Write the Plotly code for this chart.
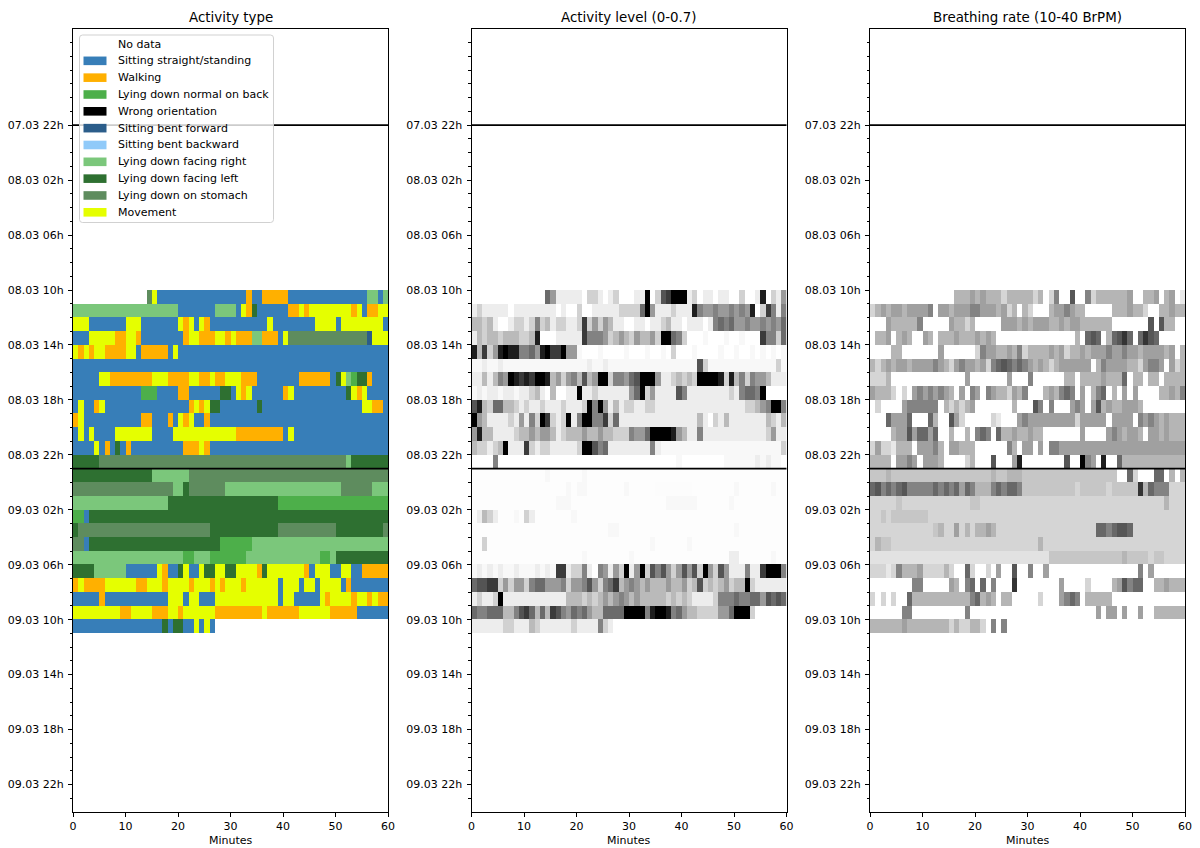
import plotly.graph_objects as go

# ---------------------------------------------------------------------------
# Categories of the "Activity type" panel
# ---------------------------------------------------------------------------
CATEGORIES = [
    "No data", "Sitting straight/standing", "Walking", "Lying down normal on back",
    "Wrong orientation", "Sitting bent forward", "Sitting bent backward",
    "Lying down facing right", "Lying down facing left", "Lying down on stomach", "Movement",
]
CATEGORY_CODES = ["-", "S", "W", "B", "X", "F", "K", "R", "L", "T", "M"]
CATEGORY_COLORS = [
    "#ffffff", "#377eb8", "#ffb000", "#4daf4a", "#000000", "#2b5d8a",
    "#90caf9", "#7bc77b", "#2e7031", "#5e8c5e", "#e5ff00",
]

TITLES = ["Activity type", "Activity level (0-0.7)", "Breathing rate (10-40 BrPM)"]
ACTIVITY_RANGE = (0, 0.7)
BREATHING_RANGE = (10, 40)

MINUTES = list(range(60))
X_TICKS = [0, 10, 20, 30, 40, 50, 60]

ROW_LABELS = [
    "08.03 10h", "08.03 11h", "08.03 12h", "08.03 13h", "08.03 14h", "08.03 15h",
    "08.03 16h", "08.03 17h", "08.03 18h", "08.03 19h", "08.03 20h", "08.03 21h",
    "08.03 22h", "08.03 23h", "09.03 00h", "09.03 01h", "09.03 02h", "09.03 03h",
    "09.03 04h", "09.03 05h", "09.03 06h", "09.03 07h", "09.03 08h", "09.03 09h",
    "09.03 10h",
]
Y_TICK_LABELS = [
    "07.03 22h", "08.03 02h", "08.03 06h", "08.03 10h", "08.03 14h", "08.03 18h",
    "08.03 22h", "09.03 02h", "09.03 06h", "09.03 10h", "09.03 14h", "09.03 18h",
    "09.03 22h",
]
NIGHT_MARKERS = ["07.03 22h", "08.03 23h"]
AXIS_START = "07.03 15h"
AXIS_END = "10.03 00h"

# Activity type per hour row: run-length tokens "<code><minutes>"
ACTIVITY_TYPE = [
    "-14 T1 M1 S17 W1 S2 W5 S15 R2 S1 R1",
    "R20 S7 R4 S1 M1 W1 L1 S6 W2 M1 W1 M8 W1 M1 S1 W2 M2",
    "M3 S7 M3 S7 M1 W1 M1 S1 M1 W1 S11 M1 S8 M4 S1 M8 S1",
    "S3 M5 W2 M2 W1 S8 W1 M2 W3 M2 W1 M1 W3 R2 W3 S1 M1 T15 F1 M3",
    "M1 W1 M1 W1 M2 W4 M2 S1 W5 S1 M1 S40",
    "S60",
    "S5 M2 W8 M3 W4 M2 W2 M1 W2 M3 W3 S8 W6 S1 L1 M1 R1 B1 L2 W1 S3",
    "S13 B3 S4 W2 S6 L2 S1 M1 W1 M1 S6 W1 M1 S10 L1 M1 W1 M1 S4",
    "S1 M1 S2 W1 M1 S16 W1 M1 W1 M1 L2 S7 L1 S19 M2 W2 S1",
    "W1 M1 S11 W2 S3 W1 S1 M1 W1 M1 S2 W1 S34",
    "S1 M1 S1 M1 S4 M7 S4 M12 W9 S1 M1 S18",
    "S4 M1 S1 W1 S1 L1 S1 W1 S10 W3 M1 W1 S34",
    "L5 T47 R1 L7",
    "L15 R7 T38",
    "T19 R2 L1 T7 R22 T6 R3",
    "R18 L21 B21",
    "B2 S1 L57",
    "L1 T25 L13 T11 L9 T1",
    "T2 S1 L25 B6 R26",
    "R21 B2 R3 B7 R14 B2 R1 L10",
    "L4 R6 S6 M1 W1 S2 L1 M1 S2 M1 L2 M2 L2 M4 W1 L1 M7 W1 S1 M3 S2 M2 S2 W5",
    "W1 M1 W4 M6 W2 M3 W1 M4 W1 M3 W1 M1 W1 M3 W1 M6 S1 M3 S1 M2 S1 M4 S1 W1 S7",
    "S5 W1 S12 M3 S1 M2 S3 M12 S1 M2 S5 M1 W1 M4 W1 M2 W1 M1 W2",
    "M9 W2 M4 W3 M2 W1 M6 W9 M1 W6 M6 W5 S6",
    "S17 L1 S1 L2 S2 M1 S1 M1 S1 -33",
]

# Activity level per minute (0 - 0.7), None = no data
ACTIVITY_LEVEL = [
    [None] * 14 + [0.46, 0.34, 0.1, 0.1, 0.1, 0.1, 0.1, 0, 0.2, 0.2, 0.1, 0, 0.1, 0.2, 0, 0,
                   0, 0.1, 0.1, 0.7, 0, 0.2, 0.52, 0.57, 0.7, 0.7, 0.7, 0.1, 0.2, 0, 0.1, 0.1,
                   0, 0.1, 0.1, 0, 0, 0.2, 0, 0, 0.1, 0.63, 0, 0.2, 0.1, 0.34],
    [0.1, 0.2, 0.1, 0.1, 0.1, 0.1, 0.1, 0, 0.1, 0.1,
     0.1, 0.1, 0.1, 0.1, 0.1, 0.1, 0, 0.1, 0, 0,
     0.2, 0, 0, 0.1, 0.1, 0.1, 0.1, 0.1, 0.2, 0.2,
     0.2, 0.2, 0.46, 0.7, 0.34, 0.1, 0.1, 0.1, 0.2, 0.1,
     0.1, 0.1, 0.63, 0.4, 0.34, 0.34, 0.4, 0.34, 0.34, 0.4,
     0.34, 0.4, 0.34, 0.63, 0, 0.2, 0.57, 0.4, 0.1, 0.4],
    [0.27, 0.27, 0.2, 0.27, 0.1, 0, 0, 0.1, 0.2, 0.2,
     0.1, 0.2, 0.4, 0.2, 0.27, 0.1, 0.2, 0.2, 0.1, 0.1,
     0.2, 0.57, 0.2, 0.34, 0.2, 0.34, 0.27, 0.1, 0.1, 0,
     0, 0.1, 0.1, 0, 0.1, 0.1, 0.2, 0.27, 0.1, 0.1,
     0, 0.1, 0.1, 0.1, 0, 0.1, 0.4, 0.46, 0.4, 0.46,
     0.34, 0.34, 0.4, 0.34, 0.34, 0.4, 0.34, 0.4, 0.34, 0.46],
    [0.1, 0.27, 0.2, 0.27, 0.27, 0.2, 0.27, 0.27, 0.27, 0.2,
     0.2, 0.27, 0.63, 0, 0, 0, 0.1, 0.1, 0.1, 0.1,
     0.1, 0.57, 0.4, 0.4, 0.4, 0.34, 0.2, 0.27, 0.34, 0.27,
     0.2, 0.34, 0.27, 0.27, 0.34, 0.2, 0.7, 0.7, 0.46, 0.4,
     0.2, 0, 0, 0, 0.04, 0, 0, 0, 0.04, 0,
     0, 0.04, 0, 0, 0, 0.57, 0.4, 0.4, 0.2, 0.46],
    [0.63, 0.27, 0.57, 0.2, 0.34, 0.63, 0.7, 0.63, 0.63, 0.4,
     0.4, 0.46, 0.34, 0.63, 0.7, 0.57, 0.57, 0.7, 0.34, 0.34,
     0.04, 0, 0, 0, 0.04, 0, 0, 0, 0, 0.04,
     0, 0, 0, 0.04, 0, 0, 0.04, 0, 0.2, 0,
     0, 0, 0.04, 0, 0, 0, 0, 0.04, 0, 0,
     0.04, 0, 0, 0.04, 0, 0.04, 0, 0.04, 0, 0.04],
    [0.04, 0.04, 0.1, 0.04, 0.04, 0.1, 0.04, 0.04, 0.04, 0.04,
     0.04, 0.04, 0.04, 0.04, 0.04, 0.04, 0.04, 0.04, 0.04, 0.04,
     0.04, 0.04, 0.1, 0.04, 0.04, 0.1, 0.04, 0.04, 0.04, 0.04,
     0.04, 0.04, 0.04, 0.04, 0.04, 0.04, 0.04, 0.04, 0.04, 0.04,
     0.04, 0.04, 0.04, 0.52, 0.2, 0.04, 0.04, 0.04, 0.04, 0.04,
     0.04, 0.04, 0.04, 0.04, 0.04, 0.04, 0.04, 0.04, 0.2, 0.04],
    [0.1, 0.1, 0.27, 0.1, 0.27, 0.4, 0.34, 0.7, 0.63, 0.57,
     0.63, 0.57, 0.7, 0.7, 0.63, 0.27, 0.34, 0.2, 0.34, 0.4,
     0.27, 0.52, 0.27, 0.34, 0.7, 0.7, 0.2, 0.4, 0.4, 0.34,
     0.46, 0.52, 0.7, 0.7, 0.7, 0.34, 0.1, 0.1, 0.2, 0.27,
     0.2, 0.27, 0.2, 0.7, 0.7, 0.7, 0.7, 0.63, 0.2, 0.63,
     0.27, 0.4, 0.2, 0.4, 0.34, 0.34, 0.27, 0.1, 0.1, 0.1],
    [0.04, 0.1, 0.04, 0.1, 0.1, 0.04, 0.1, 0.1, 0.04, 0.1,
     0.1, 0.2, 0.27, 0.1, 0, 0.27, 0, 0, 0.1, 0.1,
     0.7, 0.1, 0.1, 0.2, 0.1, 0.1, 0.1, 0.1, 0.1, 0.1,
     0.34, 0.46, 0.7, 0.2, 0.34, 0.1, 0.1, 0.1, 0.1, 0.52,
     0.4, 0.1, 0.1, 0.1, 0.1, 0.1, 0.1, 0.1, 0.1, 0.2,
     0.1, 0.4, 0.46, 0.46, 0.4, 0.7, 0, 0, 0, 0],
    [0.52, 0.63, 0.27, 0.2, 0.46, 0.46, 0.27, 0.27, 0.2, 0.1,
     0.2, 0.1, 0.1, 0.2, 0.1, 0.1, 0.1, 0.2, 0.1, 0.1,
     0.1, 0.2, 0.7, 0.4, 0.7, 0.34, 0.1, 0.27, 0.1, 0.2,
     0.2, 0.1, 0.1, 0.2, 0.2, 0.1, 0.1, 0.1, 0.1, 0.1,
     0.1, 0.1, 0.1, 0.1, 0.1, 0.1, 0.1, 0.1, 0.1, 0.1,
     0.1, 0.1, 0.2, 0.2, 0.27, 0.34, 0.4, 0.7, 0.7, 0.4],
    [0.7, 0.34, 0.27, 0.1, 0.1, 0.1, 0.1, 0.2, 0.1, 0.34,
     0.1, 0.4, 0.2, 0.7, 0.57, 0.2, 0.1, 0.2, 0.7, 0.1,
     0.4, 0.7, 0.7, 0.4, 0.4, 0.57, 0.2, 0.46, 0.1, 0.1,
     0.1, 0.1, 0.1, 0.1, 0.1, 0.1, 0.1, 0.1, 0.1, 0.1,
     0.1, 0.1, 0.1, 0.27, 0.1, 0, 0.2, 0.1, 0.27, 0.1,
     0.1, 0.1, 0.1, 0.1, 0.1, 0.1, 0.27, 0.2, 0.1, 0.27],
    [0.34, 0.63, 0.27, 0.27, 0.1, 0.1, 0.1, 0.1, 0.2, 0.27,
     0.27, 0.34, 0.27, 0.34, 0.34, 0.27, 0.1, 0.2, 0.27, 0.27,
     0.27, 0.34, 0.27, 0.27, 0.34, 0.27, 0.27, 0.2, 0.2, 0.2,
     0.4, 0.34, 0.34, 0.46, 0.7, 0.7, 0.7, 0.7, 0.63, 0.34,
     0.27, 0.1, 0.1, 0.4, 0.1, 0.1, 0.1, 0.1, 0.1, 0.1,
     0.1, 0.1, 0.1, 0.1, 0.1, 0.1, 0.2, 0.34, 0.1, 0.1],
    [0.27, 0.2, 0.2, 0.1, 0.2, 0.27, 0.7, 0.1, 0.1, 0.1,
     0.57, 0.2, 0.1, 0.2, 0.2, 0.1, 0.1, 0.1, 0.1, 0.1,
     0.2, 0.7, 0.7, 0.52, 0.4, 0.46, 0.1, 0.1, 0.1, 0.1,
     0.1, 0.1, 0.1, 0.1, 0.4, 0.1, 0.04, 0.04, 0.04, 0.04,
     0.04, 0.04, 0.04, 0.04, 0.04, 0.04, 0.04, 0.04, 0.04, 0.04,
     0.04, 0.04, 0.04, 0.04, 0.04, 0.04, 0.04, 0.04, 0.04, 0.2],
    [0, 0, 0, 0, 0.4] + [0] * 34 + [0.04] + [0] * 8
    + [0.04, 0.04, 0.04, 0.04, 0.04, 0.04, 0.1, 0.04, 0.1, 0.04, 0.04, 0],
    [0.01] * 14 + [0.04] + [0.01] * 6 + [0.04] + [0.01] * 38,
    [0.01] * 18 + [0.04, 0.01, 0.04, 0.04] + [0.01] * 7 + [0.04] + [0.01] * 5
    + [0.02] * 7 + [0.01] * 8 + [0.04] + [0.01] * 6 + [0.04] + [0.01] * 2,
    [0.01] * 16 + [0.04, 0.04, 0.04] + [0.01] * 18 + [0.04] * 6 + [0.01] * 6 + [0.04] + [0.01] * 10,
    [0.01, 0.1, 0.27, 0.2, 0.1, 0.01, 0.01, 0.01, 0.04, 0.01,
     0.2, 0.1, 0.01, 0.01, 0.01, 0.01, 0.01, 0.01, 0.01, 0.04] + [0.01] * 40,
    [0.01] * 26 + [0.04, 0.04] + [0.01] * 22 + [0.04] + [0.01] * 9,
    [0.01, 0.01, 0.2, 0.01] + [0.01] * 30 + [0.04] + [0.01] * 6 + [0.04] + [0.01] * 18,
    [0.01] * 21 + [0.04] + [0.01] * 8 + [0.04] + [0.01] * 18 + [0.1, 0.1] + [0.01] * 6
    + [0.04] + [0.01] * 2,
    [0.04, 0.1, 0.04, 0.1, 0.04, 0.1, 0.04, 0.04, 0.1, 0.04,
     0.04, 0.04, 0.1, 0.04, 0.1, 0.04, 0.57, 0.57, 0.1, 0.2,
     0.2, 0.4, 0.1, 0, 0.4, 0.34, 0.1, 0.34, 0.2, 0.7,
     0.1, 0.34, 0.7, 0.2, 0.52, 0.4, 0.52, 0.34, 0.2, 0.34,
     0.52, 0.34, 0.52, 0.2, 0.7, 0.34, 0.2, 0.52, 0.34, 0.1,
     0.1, 0.1, 0.4, 0.1, 0.1, 0.57, 0.7, 0.7, 0.7, 0.4],
    [0.46, 0.52, 0.52, 0.57, 0.57, 0.2, 0.34, 0.2, 0.34, 0.34,
     0.2, 0.4, 0.46, 0.46, 0.34, 0.34, 0.34, 0.4, 0.2, 0.34,
     0.34, 0.4, 0.52, 0.34, 0.2, 0.4, 0.46, 0.57, 0.27, 0.34,
     0.4, 0.34, 0.27, 0.34, 0.27, 0.27, 0.27, 0.34, 0.27, 0.27,
     0.34, 0.2, 0.27, 0.52, 0.2, 0.27, 0.2, 0.27, 0.34, 0.2,
     0.27, 0.27, 0.7, 0.2, 0.1, 0.1, 0.1, 0.1, 0.1, 0.1],
    [0.1, 0.2, 0.1, 0.1, 0.2, 0.7, 0.1, 0.1, 0.1, 0.1,
     0.1, 0.1, 0.1, 0.1, 0.1, 0.1, 0.1, 0.1, 0.27, 0.27,
     0.27, 0.2, 0.27, 0.2, 0.27, 0.34, 0.27, 0.34, 0.4, 0.34,
     0.27, 0.34, 0.27, 0.27, 0.27, 0.27, 0.27, 0.2, 0.27, 0.2,
     0.27, 0.2, 0.1, 0.1, 0.1, 0.1, 0.2, 0.4, 0.4, 0.4,
     0.46, 0.4, 0.4, 0.46, 0.46, 0.34, 0.52, 0.46, 0.52, 0.46],
    [0.46, 0.4, 0.4, 0.46, 0.46, 0.46, 0.27, 0.27, 0.4, 0.52,
     0.57, 0.46, 0.27, 0.46, 0.27, 0.57, 0.52, 0.4, 0.34, 0.46,
     0.4, 0.46, 0.34, 0.27, 0.27, 0.46, 0.46, 0.46, 0.46, 0.7,
     0.7, 0.7, 0.7, 0.4, 0.63, 0.7, 0.7, 0.63, 0.4, 0.46,
     0.34, 0.27, 0.27, 0.2, 0.2, 0.2, 0.2, 0.34, 0.34, 0.46,
     0.7, 0.7, 0.7, 0.2, 0, 0, 0, 0, 0, 0],
    [0.1, 0.1, 0.1, 0.1, 0.1, 0.1, 0.2, 0.2, 0.1, 0.1,
     0.1, 0.27, 0.2, 0.1, 0.1, 0.1, 0.1, 0.1, 0.1, 0.2,
     0.1, 0.1, 0.1, 0.1, 0.4, 0.2, 0.1] + [None] * 33,
]

# Breathing rate per minute (BrPM), None = no data
BREATHING_RATE = [
    [None] * 16 + [22, 22, 22, 24, 22, 24, 22, 22, 22, 18,
                   22, 22, 22, 22, 22, 18, 22, None, 18, 27,
                   None, None, 32, None, None, 27, 18, 22, 22, 22,
                   22, 22, 22, 24, None, None, 22, 22, 24, None,
                   22, 24, None, 15],
    [18, 22, 24, 22, 24, 24, 22, 24, 24, 24,
     24, 27, None, 24, 24, 22, 24, 24, 24, 27,
     27, 24, 24, 24, 22, 24, 18, 22, None, 22,
     18, None, None, None, 22, 24, 24, 27, 24, 22,
     22, None, None, None, None, None, 22, 22, 22, 24,
     22, 22, 18, None, None, 22, 22, 24, 22, 22],
    [None, None, None, 24, 22, 22, 22, 22, 22, 27,
     None, None, None, None, None, 24, 22, 22, 18, 22,
     None, None, None, None, None, 24, 24, 24, 22, 24,
     22, 24, 24, 24, 22, 22, 24, 22, 24, 24,
     22, 22, 22, 22, 22, 22, None, None, None, None,
     None, None, None, 32, None, 32, 22, 22, None, None],
    [None, 22, 22, 24, None, 22, 24, 22, None, None,
     24, 22, None, 22, 22, 22, 24, 22, 22, 22,
     24, 22, 24, 22, None, None, None, None, None, None,
     None, None, None, None, None, None, None, None, None, 22,
     None, 30, 32, 30, None, 22, 30, 32, 35, 30,
     None, 30, 35, 32, 30, None, None, None, None, None],
    [None, None, None, None, 22, 22, None, None, None, None,
     None, None, None, 24, None, None, None, None, None, None,
     18, 27, 24, 24, 22, 22, 24, 22, 27, 18,
     22, 22, 22, 22, 24, 22, 24, 18, 22, 22,
     24, 22, 24, 24, 24, 27, 24, 24, 27, 24,
     24, 22, 24, 24, 24, 24, 22, 24, None, 22],
    [22, 18, 22, 24, 22, 24, 24, 22, 24, 24,
     24, 24, 27, 24, 22, 18, 24, 27, 24, 24,
     22, 24, 18, 27, 30, 32, 30, 27, 30, 27,
     24, 22, 24, 22, 18, 22, 24, 24, 24, 24,
     24, 24, None, 22, 27, 24, 24, 24, 24, 22,
     22, 18, 24, 27, 27, 24, None, 24, 18, 22],
    [18, 18, 18, 22, None, None, None, None, None, None,
     None, None, None, None, None, None, None, None, 24, None,
     None, None, None, None, None, None, 24, None, None, None,
     27, None, None, None, None, None, None, 22, 22, None,
     22, 22, 22, 22, 24, 22, 22, 22, 30, None,
     22, 22, None, 22, 22, None, 22, 22, 22, 22],
    [24, 22, 22, 22, 18, None, 18, None, 24, 27,
     24, 27, 24, 27, 24, 22, None, 24, None, 27,
     24, None, 27, 24, 22, 22, 18, 24, 22, 27,
     None, None, None, 22, 24, 22, 27, 30, 27, None,
     24, None, 22, 27, 30, None, 22, None, 24, None,
     24, None, None, None, None, 22, 22, 24, 22, 27],
    [None, 18, None, None, None, None, 24, 27, 27, 27,
     27, 27, 27, None, 22, 18, 22, 18, 22, 24,
     None, None, None, None, None, None, None, 22, None, None,
     None, 32, 27, None, 27, None, None, None, 24, 27,
     24, None, 24, 32, 22, 24, 22, 22, 24, 24,
     24, 22, None, None, None, None, None, None, None, None],
    [None, None, None, 30, 24, 24, 24, 30, None, None,
     None, 30, 22, None, None, 32, 24, 18, None, None,
     None, None, None, 18, 15, None, None, None, 24, 27,
     24, 24, 24, 24, 24, 24, 24, 24, 24, 18,
     24, 24, 24, 24, 24, None, 24, 24, 24, 24,
     None, 27, 24, 27, 24, 22, 24, 22, 22, 22],
    [None, None, None, None, 22, 24, 24, 32, 24, 30,
     30, 24, 30, None, None, 22, None, None, 22, None,
     27, 30, 27, None, 30, 22, 22, 24, 22, 22,
     24, 22, 22, None, None, None, None, None, None, None,
     24, None, None, None, None, 24, 27, 24, 22, 24,
     24, 22, None, 24, 24, 22, 24, 22, 22, 22],
    [18, 24, 18, 18, 15, 22, 22, 22, None, 24,
     24, 24, 27, 22, None, 24, 24, 22, 22, 22,
     None, None, None, None, None, None, 27, 22, None, 24,
     24, None, 24, None, 27, 27, 24, 24, 24, 24,
     24, 24, 24, 24, 24, 24, 24, 24, 24, 24,
     24, 24, 24, 24, 24, 24, 24, 24, 24, 24],
    [22, 22, 22, 22, None, 24, 24, 27, 24, None,
     24, 24, 24, 22, None, None, None, None, 18, 22,
     None, None, None, 32, None, None, None, 24, 37, None,
     None, None, None, None, None, None, None, 32, None, None,
     40, 27, 24, None, 37, None, None, 30, 22, 22,
     22, 22, 22, 22, 22, 22, 22, 22, 22, 22],
    [20, 20, 20, 22, 20, 20, 20, 20, 20, 20,
     20, 20, 20, 20, 20, 20, 20, 20, 20, 20,
     20, 20, 20, 22, 20, 20, 22, 22, 22, 20,
     20, 20, 20, 20, 20, 20, 20, 20, 20, 20,
     20, 20, 20, 20, 20, 20, 20, None, None, 30,
     18, None, None, None, 30, 30, None, 22, None, 22],
    [30, 32, 27, 30, 27, 30, 32, 27, 27, 27,
     27, 27, 30, 27, 30, 27, 30, 24, 30, 27,
     22, 22, 22, 27, 30, 27, 30, 30, 27, 20,
     20, 20, 20, 20, 20, 20, 20, 20, 20, 18,
     20, 20, 20, 20, 20, 18, 20, 20, 20, 20,
     20, 35, 22, 30, 27, 27, 27, 18, 18, 18],
    [18, 18, 18, 18, 18, 20, 18, 18, 18, 18,
     18, 18, 18, 18, 18, 18, 18, 18, 18, 20,
     20, 18, 18, 18, 18, 18, 18, 18, 18, 18,
     18, 18, 18, 18, 18, 18, 18, 18, 18, 18,
     18, 18, 18, 18, 18, 18, 18, 18, 18, 18,
     18, 18, 18, 18, 18, 18, 22, 18, 18, 18],
    [18, 18, 20, 18, 20, 20, 20, 20, 20, 20,
     20, 18, 18, 18, 18, 18, 18, 18, 18, 18] + [18] * 40,
    [18, 18, 18, 18, 18, 18, 18, 18, 18, 18,
     18, 18, 20, 22, 18, 18, 24, 18, 22, 18,
     22, 22, 24, 22, 18, 18, 18, 18, 18, 18,
     18, 18, 18, 18, 18, 18, 18, 18, 18, 18,
     18, 18, 18, 30, 30, 27, 30, 32, 32, 30,
     18, 18, 18, 18, 18, 18, 18, 18, 18, 18],
    [18, 22, 20, 20, 18, 18, 18, 18, 18, 18] + [18] * 22 + [22] + [18] * 27,
    [16] * 34 + [20, 20, 20, 20, 20, 20, 20, 20, 20, 20, 20, 20, 20, 20, 22, 20,
                 20, 20, 20, 18, 20, 20, 18, 18, 18, 18],
    [18, 18, 18, 15, 18, 27, 22, 22, 22, 24,
     18, 18, 18, 18, 22, 18, None, None, 30, 18,
     None, None, 18, None, 24, None, None, 32, None, None,
     27, None, None, 24, None, None, None, None, None, None,
     None, None, None, None, None, None, None, None, None, None,
     None, 27, None, 24, None, None, None, None, None, None],
    [None, None, None, None, None, None, None, None, 27, 27,
     None, None, None, None, None, 24, 22, None, 27, 30,
     None, 30, None, 27, None, None, None, 35, None, None,
     None, None, None, None, None, None, 24, None, None, None,
     None, 18, None, None, None, None, 22, 24, 32, 27,
     30, 30, None, None, 22, 22, 24, 22, 22, 22],
    [18, None, 18, None, 18, None, None, 30, 22, 22,
     22, 22, 22, 22, 22, 22, 22, 22, 22, 27,
     30, 22, 24, 22, None, 22, 22, None, None, None,
     None, None, 18, None, None, None, 24, 27, 30, 27,
     None, 22, 22, 22, 22, 22, None, None, None, None,
     None, None, None, None, None, None, None, None, None, None],
    [None, None, None, None, None, None, 27, 27, None, None,
     None, None, None, None, None, None, None, None, 27, None,
     None, None, None, None, None, None, None, None, None, None,
     None, None, None, None, None, None, None, None, None, None,
     None, None, None, 24, None, 24, 24, None, 24, None,
     None, 24, None, None, 22, 22, 22, 22, 22, 22],
    [22, 22, 22, 22, 22, 22, 24, 22, 22, 22,
     22, 22, 22, 22, 22, 18, 22, 18, 18, 22,
     22, 18, None, 27, None, 27] + [None] * 34,
]

# ---------------------------------------------------------------------------
# Helpers
# ---------------------------------------------------------------------------
def hour_of(label):
    """'08.03 10h' -> hours since 07.03 00h."""
    day_part, hour_part = label.split()
    day = int(day_part.split(".")[0])
    return (day - 7) * 24 + int(hour_part.rstrip("h"))


def decode_runs(row):
    cells = []
    for token in row.split():
        code, count = token[0], int(token[1:])
        cells += [CATEGORY_CODES.index(code)] * count
    return cells


GREYS = [[0.0, "#ffffff"], [0.125, "#f0f0f0"], [0.25, "#d9d9d9"], [0.375, "#bdbdbd"],
         [0.5, "#969696"], [0.625, "#737373"], [0.75, "#525252"], [0.875, "#252525"],
         [1.0, "#000000"]]

n_cat = len(CATEGORIES)
cat_scale = []
for i, c in enumerate(CATEGORY_COLORS):
    cat_scale.append([i / n_cat, c])
    cat_scale.append([(i + 1) / n_cat, c])

x_centers = [m + 0.5 for m in MINUTES]
y_centers = [hour_of(lbl) + 0.5 for lbl in ROW_LABELS]
type_z = [decode_runs(r) for r in ACTIVITY_TYPE]

fig = go.Figure()
fig.add_trace(go.Heatmap(
    x=x_centers, y=y_centers, z=type_z, colorscale=cat_scale,
    zmin=-0.5, zmax=n_cat - 0.5, showscale=False, hoverinfo="skip",
    xaxis="x", yaxis="y"))
fig.add_trace(go.Heatmap(
    x=x_centers, y=y_centers, z=ACTIVITY_LEVEL, colorscale=GREYS,
    zmin=ACTIVITY_RANGE[0], zmax=ACTIVITY_RANGE[1], showscale=False, hoverinfo="skip",
    xaxis="x2", yaxis="y2"))
fig.add_trace(go.Heatmap(
    x=x_centers, y=y_centers, z=BREATHING_RATE, colorscale=GREYS,
    zmin=BREATHING_RANGE[0], zmax=BREATHING_RANGE[1], showscale=False, hoverinfo="skip",
    xaxis="x3", yaxis="y3"))

# ---------------------------------------------------------------------------
# Layout
# ---------------------------------------------------------------------------
W, H = 1200, 848
ML, MR, MT, MB = 73, 15, 29, 36
PW, PH = W - ML - MR, H - MT - MB
FONT = "DejaVu Sans"


def px(x):
    return (x - ML) / PW


def py(y):
    return (H - MB - y) / PH


domains = [[px(73), px(388)], [px(471.5), px(786.5)], [px(870), px(1185)]]

major_vals = [hour_of(t) for t in Y_TICK_LABELS]
y0, y1 = hour_of(AXIS_START), hour_of(AXIS_END)
minor_vals = [h for h in range(y0 + 1, y1) if h not in major_vals]

axis_common = dict(showline=True, linecolor="black", linewidth=1, mirror=True,
                   showgrid=False, zeroline=False, ticks="outside", ticklen=4,
                   tickwidth=1, tickcolor="black", automargin=False,
                   tickfont=dict(family=FONT, size=11, color="black"))

layout = dict(width=W, height=H, margin=dict(l=ML, r=MR, t=MT, b=MB, autoexpand=False),
              paper_bgcolor="white", plot_bgcolor="white", showlegend=False,
              font=dict(family=FONT, size=11, color="black"))
for k in range(3):
    sx = "" if k == 0 else str(k + 1)
    layout["xaxis" + sx] = dict(
        axis_common, domain=domains[k], range=[0, 60], tickmode="array",
        tickvals=X_TICKS, ticktext=[str(v) for v in X_TICKS],
        anchor="y" + sx)
    layout["yaxis" + sx] = dict(
        axis_common, domain=[0, 1], range=[y1, y0], tickmode="array",
        tickvals=major_vals, ticktext=Y_TICK_LABELS, anchor="x" + sx,
        ticklabelstandoff=2,
        minor=dict(tickmode="array", tickvals=minor_vals, ticks="outside",
                   ticklen=2.2, tickwidth=1, tickcolor="black"))

fig.update_layout(**layout)

shapes = []
annotations = []
for k in range(3):
    sx = "" if k == 0 else str(k + 1)
    for lbl in NIGHT_MARKERS:
        h = hour_of(lbl)
        shapes.append(dict(type="line", xref=f"x{sx} domain", yref=f"y{sx}",
                           x0=0, x1=1, y0=h, y1=h, layer="above",
                           line=dict(color="black", width=1.6)))
    cx = (domains[k][0] + domains[k][1]) / 2
    annotations.append(dict(text=TITLES[k], xref="paper", yref="paper", x=cx, y=py(17),
                            showarrow=False, xanchor="center", yanchor="middle",
                            font=dict(family=FONT, size=13.4, color="black")))
    annotations.append(dict(text="Minutes", xref="paper", yref="paper", x=cx, y=py(840),
                            showarrow=False, xanchor="center", yanchor="middle",
                            font=dict(family=FONT, size=11, color="black")))

# legend frame (rounded box, translucent white)
lx0, lx1, ly0, ly1 = px(79.5), px(273.5), py(35), py(222.5)
rx, ry = 3 / PW, 3 / PH
path = (f"M {lx0 + rx},{ly0} L {lx1 - rx},{ly0} Q {lx1},{ly0} {lx1},{ly0 - ry} "
        f"L {lx1},{ly1 + ry} Q {lx1},{ly1} {lx1 - rx},{ly1} "
        f"L {lx0 + rx},{ly1} Q {lx0},{ly1} {lx0},{ly1 + ry} "
        f"L {lx0},{ly0 - ry} Q {lx0},{ly0} {lx0 + rx},{ly0} Z")
shapes.append(dict(type="path", xref="paper", yref="paper", path=path, layer="above",
                   fillcolor="rgba(255,255,255,0.8)",
                   line=dict(color="rgba(204,204,204,0.9)", width=1)))
for i, (name, color) in enumerate(zip(CATEGORIES, CATEGORY_COLORS)):
    yc = 44 + 16.83 * i
    shapes.append(dict(type="rect", xref="paper", yref="paper", layer="above",
                       x0=px(83.5), x1=px(106.5), y0=py(yc - 4.3), y1=py(yc + 4.3),
                       fillcolor=color, line=dict(width=0)))
    annotations.append(dict(text=name, xref="paper", yref="paper", x=px(115.5), y=py(yc),
                            showarrow=False, xanchor="left", yanchor="middle",
                            font=dict(family=FONT, size=11, color="black")))

fig.update_layout(shapes=shapes, annotations=annotations)
fig.write_html("out.html")
